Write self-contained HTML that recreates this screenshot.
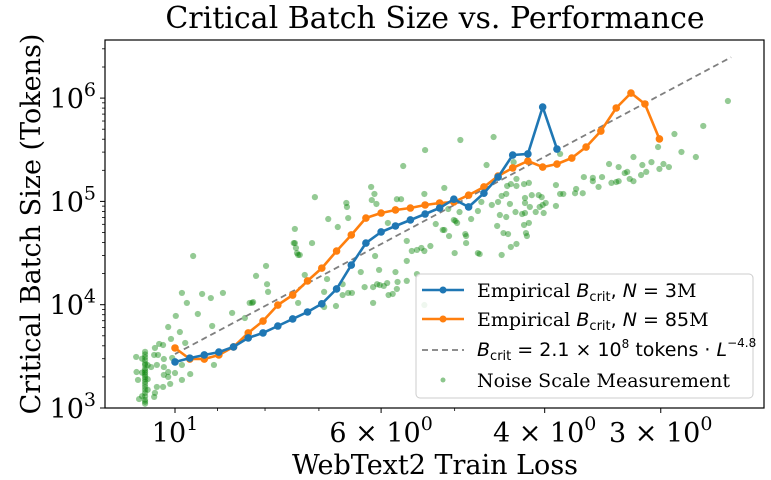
<!DOCTYPE html>
<html><head><meta charset="utf-8"><style>
body{margin:0;background:#fff}
svg{display:block}
text{font-family:"DejaVu Serif","Liberation Serif",serif;fill:#000}
.m{font-family:"DejaVu Sans","Liberation Sans",sans-serif}
</style></head><body>
<svg id="chart" width="771" height="480" viewBox="0 0 771 480" xmlns="http://www.w3.org/2000/svg">
<text x="435" y="28" font-size="30" text-anchor="middle">Critical Batch Size vs. Performance</text>
<text x="435" y="474" font-size="27" text-anchor="middle">WebText2 Train Loss</text>
<text transform="translate(40,224) rotate(-90)" font-size="27" text-anchor="middle">Critical Batch Size (Tokens)</text>
<g id="plot"></g>
<rect x="105" y="40" width="659" height="368" fill="none" stroke="#000" stroke-width="1.2"/>
<g id="ticks"></g>
<g>
<rect x="416" y="274" width="337" height="124" rx="4" fill="#fff" fill-opacity="0.85" stroke="#ccc"/>
<g>
<line x1="422" y1="290" x2="464" y2="290" stroke="#1f77b4" stroke-width="2.5"/><circle cx="443" cy="290" r="3.5" fill="#1f77b4"/>
<text x="477" y="297" font-size="19">Empirical <tspan class="m" font-style="italic">B</tspan><tspan class="m" font-size="13" dy="4">crit</tspan><tspan class="m" dy="-4">, </tspan><tspan class="m" font-style="italic">N</tspan><tspan class="m"> = 3</tspan>M</text></g>
<g>
<line x1="422" y1="319" x2="464" y2="319" stroke="#ff7f0e" stroke-width="2.5"/><circle cx="443" cy="319" r="3.5" fill="#ff7f0e"/>
<text x="477" y="326" font-size="19">Empirical <tspan class="m" font-style="italic">B</tspan><tspan class="m" font-size="13" dy="4">crit</tspan><tspan class="m" dy="-4">, </tspan><tspan class="m" font-style="italic">N</tspan><tspan class="m"> = 85</tspan>M</text></g>
<g>
<line x1="422" y1="350" x2="464" y2="350" stroke="#7f7f7f" stroke-width="1.8" stroke-dasharray="6,4"/>
<text x="477" y="356" font-size="19" class="m"><tspan font-style="italic">B</tspan><tspan font-size="13" dy="4">crit</tspan><tspan dy="-4"> = 2.1 × 10</tspan><tspan font-size="12" dy="-8">8</tspan><tspan dy="8"> tokens · </tspan><tspan font-style="italic">L</tspan><tspan font-size="12" dy="-9">−4.8</tspan></text></g>
<g>
<circle cx="443" cy="380" r="2.5" fill="green" fill-opacity="0.45"/>
<text x="477" y="387" font-size="19">Noise Scale Measurement</text></g>
</g>
</svg>
<script>
const lossGrid=[10.00,9.64,9.30,8.97,8.65,8.34,8.04,7.75,7.47,7.20,6.95,6.70,6.46,6.23,6.00,5.79,5.58,5.38,5.19,5.01,4.83,4.65,4.49,4.33,4.17,4.02,3.88,3.74,3.61,3.48,3.35,3.23,3.12,3.01];
const blueB=[2790,3040,3260,3480,3900,4770,5330,6220,7280,8500,10200,14200,24200,39500,50600,57800,66100,75500,86300,105000,88300,120000,172000,281000,288000,820000,321000];
const orangeB=[3810,2980,2980,3260,3900,5330,6950,9930,12400,17000,22600,33100,47300,69000,77200,82600,86300,92300,96500,98700,115000,138000,176000,211000,246000,215000,230000,263000,336000,480000,802000,1120000,877000,402000];
const fitCoef=2.1e8, fitExp=-4.8, fitLmax=10.0, fitLmin=2.52;
const noiseL=[9.56,9.83,9.35,8.88,9.71,9.15,9.45,9.98,8.68,10.17,9.88,10.10,9.12,9.75,10.30,10.40,10.51,11.01,10.53,10.43,10.28,10.07,10.46,10.61,10.28,10.17,10.0,9.83,9.63,9.08,10.28,10.17,9.83,10.12,10.30,10.46,10.51,10.53,10.93,11.0,10.96,8.18,7.98,7.96,7.94,8.26,7.43,7.39,7.34,8.41,8.31,8.24,
10.77,10.77,10.77,10.77,10.77,10.77,10.77,10.77,10.77,10.77,10.77,10.77,10.77,10.77,10.77,10.77,10.77,10.77,10.77,10.77,10.77,10.70,10.70,10.70,10.85,10.85,10.85,
7.07,7.43,7.45,7.41,7.37,7.12,7.25,7.37,6.86,6.91,6.91,6.71,6.84,6.68,6.54,6.53,6.51,6.60,6.60,6.51,6.45,6.31,6.25,6.12,6.12,6.09,6.03,6.06,6.02,5.96,5.91,5.89,5.83,5.77,5.76,5.79,5.63,5.63,5.63,6.15,6.14,6.10,6.07,5.90,5.77,5.71,5.68,5.56,5.49,5.43,5.39,5.31,5.39,5.24,5.13,5.13,5.08,5.07,5.01,4.99,5.00,4.87,4.86,4.80,4.72,5.38,5.49,5.39,
4.93,4.54,4.62,4.94,5.15,4.97,4.86,4.70,4.72,4.68,4.56,4.49,4.45,4.40,4.47,4.40,4.50,4.43,4.38,4.45,4.35,4.29,4.36,4.30,4.23,4.20,4.21,4.16,4.19,4.18,4.39,4.35,4.29,4.29,4.21,4.16,4.32,4.20,4.20,4.15,4.13,4.09,4.06,4.03,4.05,4.02,3.99,4.01,3.89,3.85,3.85,3.82,3.89,3.71,3.70,3.64,3.63,3.55,3.55,3.50,3.47,3.41,3.39,3.35,3.33,3.33,3.28,3.26,3.24,3.21,3.21,3.15,3.14,3.11,3.07,3.02,3.01,2.98,2.94,2.90,2.85,2.75,2.70,2.54];
const noiseB=[29600,13000,12700,13000,10400,11600,8130,7780,8320,6080,5440,4660,6220,4260,4070,4170,3810,3120,3260,3260,2980,3050,2610,2490,2490,2230,2180,2610,2130,2610,2090,2000,1870,1710,1600,1600,1400,1280,1220,2230,1870,19000,23700,15800,13300,10400,39500,31600,30300,7430,10400,10600,
3500,3300,3100,2900,2700,2600,2400,2300,2200,2100,2000,1900,1800,1700,1600,1500,1400,1300,1200,1150,1100,2600,1900,1500,3000,2200,1300,
110000,54100,39500,35400,30300,39500,19400,10400,17700,13300,9500,9710,67500,56500,96500,88300,69000,15800,12400,13000,13000,20700,14800,14800,10400,29600,21700,15800,15500,15200,16200,12400,12700,14200,16600,20700,17000,26500,41400,138000,103000,118000,94400,61800,105000,105000,220000,33100,33900,35400,33100,37000,118000,60400,52900,135000,84400,46200,66100,64600,31600,48300,46200,67500,31600,314000,19800,9930,
393000,420000,225000,78900,52900,61800,39500,30900,80700,98700,92300,98700,113000,118000,73800,70600,57800,49400,48300,30300,36200,38700,94400,78900,75500,77200,59100,61800,49400,46200,141000,147000,165000,141000,147000,151000,240000,108000,96500,88300,115000,78900,115000,110000,88300,92300,96500,77200,144000,288000,118000,118000,90300,120000,132000,120000,172000,169000,157000,138000,172000,230000,151000,154000,215000,157000,188000,193000,165000,269000,157000,180000,225000,193000,240000,336000,206000,230000,215000,449000,301000,269000,537000,937000];
const yTickVals=[1e3,1e4,1e5,1e6];
const yTickExps=['3','4','5','6'];
const xTickVals=[10,6,4,3];
const xTickLabels=[['10','1'],['6 × 10','0'],['4 × 10','0'],['3 × 10','0']];
const xMinorVals=[9,8,7,5];

const NS='http://www.w3.org/2000/svg';
const X0=175, PXD=929, Y0=408, PYD=103.3;
function sx(L){return X0+PXD*(1-Math.log10(L));}
function sy(B){return Y0-PYD*(Math.log10(B)-3);}
function mk(tag,attrs,parent){const e=document.createElementNS(NS,tag);for(const k in attrs)e.setAttribute(k,attrs[k]);parent.appendChild(e);return e;}
const plot=document.getElementById('plot');
const clip=mk('clipPath',{id:'cp'},plot);mk('rect',{x:105,y:40,width:659,height:368},clip);
const g=mk('g',{'clip-path':'url(#cp)'},plot);
for(let i=0;i<noiseL.length;i++){
 const c=mk('circle',{cx:sx(noiseL[i]),cy:sy(noiseB[i]),r:3.1,fill:'green','fill-opacity':0.42},g);
 
 
}
const fl=mk('line',{x1:sx(fitLmax),y1:sy(fitCoef*Math.pow(fitLmax,fitExp)),x2:sx(fitLmin),y2:sy(fitCoef*Math.pow(fitLmin,fitExp)),stroke:'#7f7f7f','stroke-width':1.8,'stroke-dasharray':'6,4'},g);


function series(vals,color,name){
 const pts=vals.map((b,i)=>sx(lossGrid[i]).toFixed(1)+','+sy(b).toFixed(1)).join(' ');
 const pl=mk('polyline',{points:pts,fill:'none',stroke:color,'stroke-width':2.6,'stroke-linejoin':'round'},g);
 
 
 vals.forEach((b,i)=>{const c=mk('circle',{cx:sx(lossGrid[i]),cy:sy(b),r:3.8,fill:color},g);
  
  });
}
series(orangeB,'#ff7f0e','series-85m');
series(blueB,'#1f77b4','series-3m');
const tk=document.getElementById('ticks');
yTickVals.forEach((v,i)=>{
 const y=sy(v);
 mk('line',{x1:100,y1:y,x2:105,y2:y,stroke:'#000'},tk);
 const t=mk('text',{x:96,y:y+10,'font-size':27,'text-anchor':'end'},tk);
 
 
 t.innerHTML='10<tspan font-size="19" dy="-12">'+yTickExps[i]+'</tspan>';
 for(let m=2;m<=9;m++){const yy=sy(v*m);if(yy>=40)mk('line',{x1:102,y1:yy,x2:105,y2:yy,stroke:'#000','stroke-width':0.8},tk);}
});
xTickVals.forEach((v,i)=>{
 const x=sx(v);
 mk('line',{x1:x,y1:408,x2:x,y2:413,stroke:'#000'},tk);
 const t=mk('text',{x:x,y:442,'font-size':27,'text-anchor':'middle'},tk);
 
 
 t.innerHTML=xTickLabels[i][0]+'<tspan font-size="19" dy="-12">'+xTickLabels[i][1]+'</tspan>';
});
xMinorVals.forEach(v=>{const x=sx(v);mk('line',{x1:x,y1:408,x2:x,y2:411,stroke:'#000','stroke-width':0.8},tk);});
</script>
</body></html>
